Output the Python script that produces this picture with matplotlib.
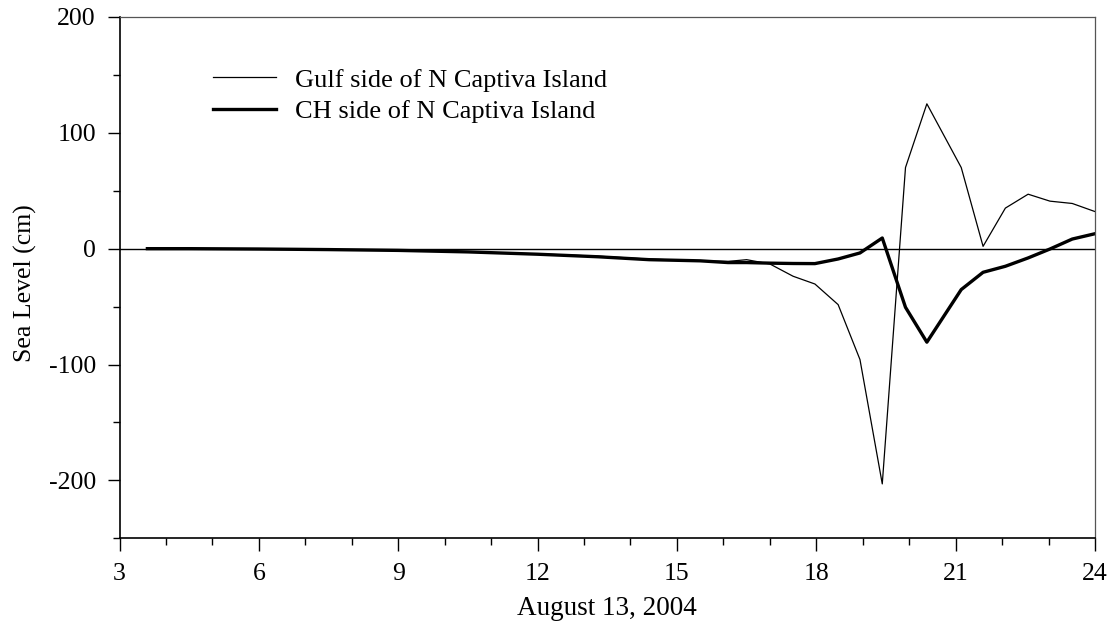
import matplotlib
matplotlib.use("Agg")
import matplotlib.pyplot as plt
from matplotlib.ticker import MultipleLocator

plt.rcParams['font.family'] = ['Liberation Serif', 'DejaVu Serif']
plt.rcParams['axes.unicode_minus'] = False

# hours on August 13, 2004
hours = [3.6, 4.5, 6.0, 7.5, 9.0, 10.5, 12.0, 13.3, 14.4, 15.5, 16.1, 16.5, 17.0,
         17.5, 17.97, 18.47, 18.94, 19.42, 19.92, 20.38, 21.12, 21.59, 22.07,
         22.56, 23.03, 23.51, 24.0]

# sea level (cm)
gulf = [0.0, 0.0, -0.3, -0.8, -1.5, -2.8, -4.5, -6.5, -9.0, -10.5, -11.0, -9.5,
        -13.2, -23.8, -30.5, -48.3, -95.7, -203.0, 70.0, 125.0, 70.0, 2.0, 35.0,
        47.0, 41.0, 39.0, 32.0]
ch = [0.0, 0.0, -0.3, -0.8, -1.5, -2.8, -4.8, -7.0, -9.5, -10.5, -12.0, -12.0,
      -12.5, -12.8, -12.9, -8.9, -3.7, 9.2, -50.6, -80.7, -35.3, -20.4, -15.2,
      -8.0, -0.3, 8.3, 12.9]

fig = plt.figure(figsize=(11.16, 6.26), dpi=100)
ax = fig.add_axes([0.1071, 0.140, 0.8741, 0.833])

ax.axhline(0, color='black', lw=1.0, zorder=1)
ax.plot(hours, gulf, color='black', lw=0.9, label='Gulf side of N Captiva Island')
ax.plot(hours, ch, color='black', lw=2.4, label='CH side of N Captiva Island')

ax.set_xlim(3, 24)
ax.set_ylim(-250, 200)
ax.xaxis.set_major_locator(MultipleLocator(3))
ax.xaxis.set_minor_locator(MultipleLocator(1))
ax.yaxis.set_major_locator(MultipleLocator(100))
ax.yaxis.set_minor_locator(MultipleLocator(50))
ax.tick_params(which='major', direction='out', length=9, width=1.0, labelsize=18.5)
ax.tick_params(which='minor', direction='out', length=5, width=1.0)
ax.tick_params(axis='x', which='major', pad=9)
ax.tick_params(axis='y', which='major', pad=8)

for side in ['left', 'bottom']:
    ax.spines[side].set_linewidth(1.2)
for side in ['top', 'right']:
    ax.spines[side].set_linewidth(0.9)
    ax.spines[side].set_color('#555555')

ax.set_xlabel('August 13, 2004', fontsize=19.5)
ax.set_ylabel('Sea Level (cm)', fontsize=18.5)
ax.xaxis.set_label_coords(0.5, -0.11)
ax.yaxis.set_label_coords(-0.085, 0.49)

ax.legend(loc='upper left', bbox_to_anchor=(0.082, 0.927), frameon=False,
          fontsize=19, handlelength=2.4, handletextpad=0.7,
          labelspacing=0.3, borderpad=0)

fig.savefig('out.png', dpi=100)
